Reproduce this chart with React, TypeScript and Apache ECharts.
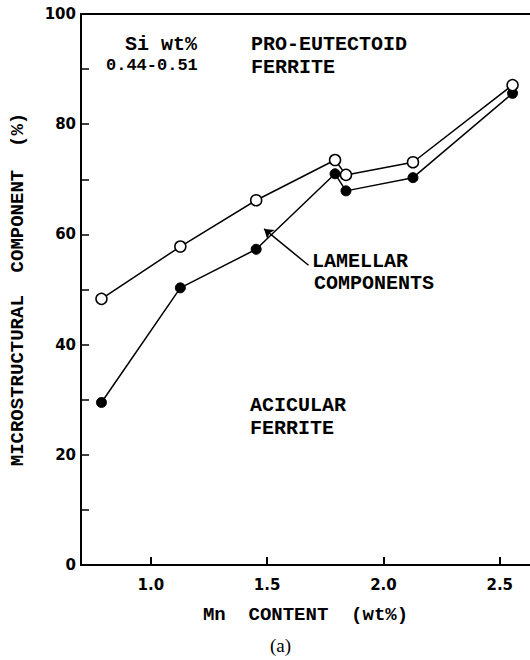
import React, { useEffect, useRef } from "react";
import * as echarts from "echarts";

const mnContent = [0.788, 1.127, 1.453, 1.792, 1.839, 2.127, 2.555];
const proEutectoidBoundary = [48.3, 57.8, 66.2, 73.5, 70.8, 73.1, 87.1];
const acicularBoundary = [29.5, 50.3, 57.3, 71.0, 67.9, 70.3, 85.6];
const xTickValues = [1.0, 1.5, 2.0, 2.5];
const arrowFrom = [1.678, 54.4];
const arrowTo = [1.487, 61.0];

const MONO = "'Liberation Mono', 'DejaVu Sans Mono', monospace";
const SANS = "'DejaVu Sans', sans-serif";

export default function App() {
  const ref = useRef<HTMLDivElement>(null);
  useEffect(() => {
    if (!ref.current) return;
    const chart = echarts.init(ref.current, undefined, { renderer: "svg" });
    const txt = (x: number, y: number, text: string, size = 20, family = MONO, weight: any = "bold") => ({
      type: "text",
      left: x,
      top: y,
      style: { text, font: `${weight} ${size}px ${family}`, fill: "#000" },
    });
    chart.setOption({
      animation: false,
      backgroundColor: "#fff",
      grid: { left: 77, top: 14, right: 0, bottom: 95 },
      xAxis: [
        {
          type: "value",
          min: 0.7,
          max: 2.63,
          name: "Mn  CONTENT  (wt%)",
          nameLocation: "middle",
          nameGap: 40,
          nameTextStyle: { fontFamily: MONO, fontWeight: "bold", fontSize: 19, color: "#000" },
          axisLine: { show: true, onZero: false, lineStyle: { color: "#000", width: 2 } },
          axisTick: { show: true, inside: true, length: 8, customValues: xTickValues, lineStyle: { color: "#000", width: 2 } },
          axisLabel: {
            customValues: xTickValues,
            formatter: (v: number) => v.toFixed(1),
            fontFamily: SANS,
            fontWeight: "bold",
            fontSize: 15,
            color: "#000",
            margin: 12,
          },
          splitLine: { show: false },
        },
        {
          type: "value",
          position: "top",
          min: 0.7,
          max: 2.63,
          axisLine: { show: true, onZero: false, lineStyle: { color: "#000", width: 2 } },
          axisTick: { show: false },
          axisLabel: { show: false },
          splitLine: { show: false },
        },
      ],
      yAxis: {
        type: "value",
        min: 0,
        max: 100,
        interval: 10,
        name: "MICROSTRUCTURAL  COMPONENT  (%)",
        nameLocation: "middle",
        nameGap: 54,
        nameTextStyle: { fontFamily: MONO, fontWeight: "bold", fontSize: 19, color: "#000" },
        axisLine: { show: true, lineStyle: { color: "#000", width: 2 } },
        axisTick: { show: true, inside: true, length: 8, lineStyle: { color: "#000", width: 1.5 } },
        axisLabel: {
          formatter: (v: number) => (v % 20 === 0 ? String(v) : ""),
          fontFamily: SANS,
          fontWeight: "bold",
          fontSize: 15,
          color: "#000",
          margin: 5,
        },
        splitLine: { show: false },
      },
      series: [
        {
          type: "line",
          data: mnContent.map((x, i) => [x, acicularBoundary[i]]),
          symbol: "circle",
          symbolSize: 10,
          itemStyle: { color: "#000", borderColor: "#000", borderWidth: 1 },
          lineStyle: { color: "#000", width: 1.5 },
          markLine: {
            silent: true,
            symbol: ["none", "arrow"],
            symbolSize: 9,
            label: { show: false },
            lineStyle: { color: "#000", width: 1.5, type: "solid" },
            data: [[{ coord: arrowFrom }, { coord: arrowTo }]],
          },
          z: 3,
        },
        {
          type: "line",
          data: mnContent.map((x, i) => [x, proEutectoidBoundary[i]]),
          symbol: "circle",
          symbolSize: 11,
          showAllSymbol: true,
          itemStyle: { color: "#fff", borderColor: "#000", borderWidth: 1.5 },
          lineStyle: { color: "#000", width: 1.5 },
          z: 4,
        },
      ],
      graphic: [
        txt(125, 34, "Si wt%"),
        txt(106, 57, "0.44-0.51", 17),
        txt(251, 34, "PRO-EUTECTOID"),
        txt(251, 57, "FERRITE"),
        txt(312, 251, "LAMELLAR"),
        txt(314, 273, "COMPONENTS"),
        txt(250, 395, "ACICULAR"),
        txt(250, 418, "FERRITE"),
        txt(270, 636, "(a)", 19, "'Liberation Serif', serif", "normal"),
      ],
    });
    return () => chart.dispose();
  }, []);
  return <div ref={ref} style={{ position: "fixed", left: 0, top: 0, width: 530, height: 660 }} />;
}
